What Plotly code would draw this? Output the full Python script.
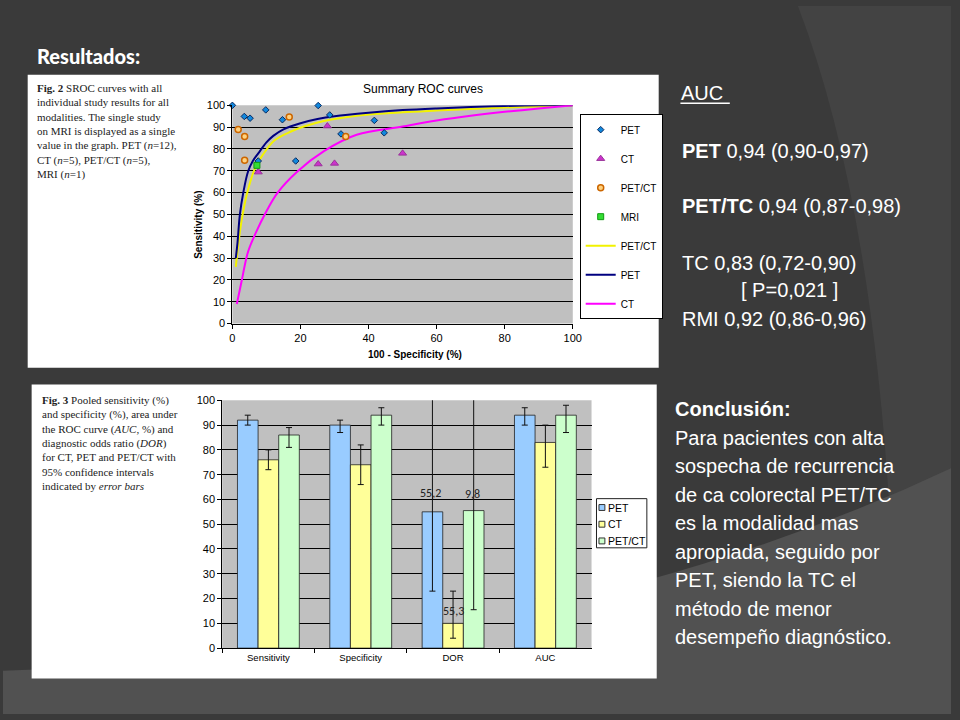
import plotly.graph_objects as go

W, H = 960, 720


def px(x):
    return x / W


def py(y):
    return 1 - y / H


# --- Fig. 2: study points (100 - specificity, sensitivity) ---
pet_fpr = [0, 3.5, 5.2, 9.8, 14.7, 25.2, 28.6, 31.9, 41.7, 44.6, 18.6, 7.6]
pet_sens = [100, 94.9, 94.1, 97.9, 93.4, 99.9, 95.6, 86.9, 93.1, 87.4, 74.5, 74.5]
ct_fpr = [7.6, 25.2, 30, 27.9, 50]
ct_sens = [69.4, 73.1, 73.4, 90.5, 78]
petct_fpr = [1.7, 3.6, 3.6, 16.7, 33.3]
petct_sens = [88.9, 85.7, 74.8, 94.7, 85.7]
mri_fpr = [7.2]
mri_sens = [72.5]

# --- Fig. 2: SROC curves ---
pet_curve_x = [1, 1.5, 2.2, 3.2, 4.6, 6, 7.6, 10, 12, 15, 20, 25, 30, 40, 50, 60, 70, 80, 90, 100]
pet_curve_y = [30, 37, 50, 60, 69.7, 74.5, 78, 83, 86, 89, 91.8, 93.7, 95, 96.6, 97.8, 98.6, 99.2, 99.7, 100, 100]
petct_curve_x = [1, 2.2, 3.2, 4.6, 6.6, 9, 12.4, 17.2, 21, 26.9, 36.5, 50, 60, 70, 80, 90, 100]
petct_curve_y = [26, 42, 51.6, 61.4, 71, 77.5, 84, 88, 90.3, 92.8, 95.2, 96.8, 97.6, 98.3, 99, 99.5, 100]
ct_curve_x = [1.3, 2.7, 4.6, 7, 9.5, 13.3, 19.1, 26.9, 36.5, 50, 60, 70, 80, 90, 100]
ct_curve_y = [9, 19.4, 32.9, 42, 50, 60, 69.7, 79, 86.5, 90.3, 93, 95.2, 97, 98.5, 100]

# --- Fig. 3: pooled estimates with 95% CI ---
categories = ["Sensitivity", "Specificity", "DOR", "AUC"]
bar_names = ["PET", "CT", "PET/CT"]
bar_colors = ["#99ccff", "#ffff99", "#ccffcc"]
pet_vals = [92, 90, 55, 94]
pet_hi = [94, 92, 160, 97]
pet_lo = [90, 87, 23, 90]
ct_vals = [76, 74, 10, 83]
ct_hi = [80, 82, 23, 90]
ct_lo = [72, 66, 4, 73]
petct_vals = [86, 94, 55.5, 94]
petct_hi = [89, 97, 200, 98]
petct_lo = [81, 90, 15.5, 87]
dor_labels = ["55,2", "55,3", "9,8"]   # PET, CT, PET/CT (as written on the slide)
dor_label_y = [62.5, 15, 62]

auc_lines = [
    ("<b>PET</b> 0,94 (0,90-0,97)", 686, 147),
    ("<b>PET/TC</b> 0,94 (0,87-0,98)", 686, 203),
    ("TC 0,83 (0,72-0,90)", 686, 261),
    ("[ P=0,021 ]", 745, 289),
    ("RMI 0,92 (0,86-0,96)", 686, 318),
]
conclusion_lines = [
    "<b>Conclusión:</b>",
    "Para pacientes con alta",
    "sospecha de recurrencia",
    "de ca colorectal PET/TC",
    "es la modalidad mas",
    "apropiada, seguido por",
    "PET, siendo la TC el",
    "método de menor",
    "desempeño diagnóstico.",
]
fig2_caption = ("<b>Fig. 2</b> SROC curves with all<br>individual study results for all<br>"
                "modalities. The single study<br>on MRI is displayed as a single<br>"
                "value in the graph. PET (<i>n</i>=12),<br>CT (<i>n</i>=5), PET/CT (<i>n</i>=5),<br>"
                "MRI (<i>n</i>=1)")
fig3_caption = ("<b>Fig. 3</b> Pooled sensitivity (%)<br>and specificity (%), area under<br>"
                "the ROC curve (<i>AUC</i>, %) and<br>diagnostic odds ratio (<i>DOR</i>)<br>"
                "for CT, PET and PET/CT with<br>95% confidence intervals<br>"
                "indicated by <i>error bars</i>")

ARIAL = "Liberation Sans, Arial"
SERIF = "Liberation Serif, Times New Roman"

fig = go.Figure()

# SROC curves
for name, xs, ys, col, rank in [("PET/CT", petct_curve_x, petct_curve_y, "#f2f200", 5),
                                ("PET", pet_curve_x, pet_curve_y, "#000080", 6),
                                ("CT", ct_curve_x, ct_curve_y, "#ff00ff", 7)]:
    fig.add_trace(go.Scatter(x=xs, y=ys, mode="lines", name=name, line=dict(color=col, width=2, shape="spline"),
                             legend="legend", legendrank=rank, legendgroup="l" + name, xaxis="x", yaxis="y"))

# study points
fig.add_trace(go.Scatter(x=pet_fpr, y=pet_sens, mode="markers", name="PET", cliponaxis=False,
                         marker=dict(symbol="diamond", size=5, color="#1188dd", line=dict(color="#0a2a60", width=1)),
                         legendrank=1, legendgroup="p1", xaxis="x", yaxis="y"))
fig.add_trace(go.Scatter(x=ct_fpr, y=ct_sens, mode="markers", name="CT",
                         marker=dict(symbol="triangle-up", size=7, color="#cc33cc", line=dict(color="#993399", width=1)),
                         legendrank=2, legendgroup="p2", xaxis="x", yaxis="y"))
fig.add_trace(go.Scatter(x=petct_fpr, y=petct_sens, mode="markers", name="PET/CT",
                         marker=dict(symbol="circle", size=6, color="#ffd27f", line=dict(color="#cc6600", width=1.5)),
                         legendrank=3, legendgroup="p3", xaxis="x", yaxis="y"))
fig.add_trace(go.Scatter(x=mri_fpr, y=mri_sens, mode="markers", name="MRI",
                         marker=dict(symbol="square", size=6, color="#33dd33", line=dict(color="#119911", width=1)),
                         legendrank=4, legendgroup="p4", xaxis="x", yaxis="y"))

# pooled bars
for name, vals, hi, lo, col in zip(bar_names, [pet_vals, ct_vals, petct_vals], [pet_hi, ct_hi, petct_hi],
                                   [pet_lo, ct_lo, petct_lo], bar_colors):
    fig.add_trace(go.Bar(
        x=categories, y=vals, name=name, showlegend=False, xaxis="x2", yaxis="y2",
        marker=dict(color=col, line=dict(color="#222222", width=0.8)),
        error_y=dict(type="data", array=[h - v for h, v in zip(hi, vals)],
                     arrayminus=[v - l for v, l in zip(vals, lo)],
                     color="#111111", thickness=1, width=3),
    ))

shapes = [
    # slide background decoration
    dict(type="path", xref="paper", yref="paper", layer="below", line=dict(width=0), fillcolor="#434343",
         path=f"M {px(805)},{py(0)} Q {px(900)},{py(250)} {px(905)},{py(720)} L {px(960)},{py(720)} L {px(960)},{py(0)} Z"),
    dict(type="path", xref="paper", yref="paper", layer="below", line=dict(width=0), fillcolor="#515151",
         path=f"M {px(0)},{py(676)} Q {px(560)},{py(660)} {px(960)},{py(470)} L {px(960)},{py(720)} L {px(0)},{py(720)} Z"),
    # white panels
    dict(type="rect", xref="paper", yref="paper", layer="below", line=dict(width=0), fillcolor="white",
         x0=px(25), x1=px(664), y0=py(368), y1=py(70)),
    dict(type="rect", xref="paper", yref="paper", layer="below", line=dict(width=0), fillcolor="white",
         x0=px(29), x1=px(662), y0=py(684), y1=py(385)),
    # grey plot areas
    dict(type="rect", xref="x domain", yref="y domain", layer="below", line=dict(width=0), fillcolor="#c0c0c0",
         x0=0, x1=1, y0=0, y1=1),
    dict(type="rect", xref="x2 domain", yref="y2 domain", layer="below", line=dict(width=0), fillcolor="#c0c0c0",
         x0=0, x1=1, y0=0, y1=1),
    # underline for AUC heading
    dict(type="line", xref="paper", yref="paper", line=dict(color="white", width=1.5),
         x0=px(686), x1=px(736), y0=py(99), y1=py(99)),
    # legend box for Fig. 3
    dict(type="rect", xref="paper", yref="paper", line=dict(color="#222222", width=1), fillcolor="white",
         x0=px(601), x1=px(652), y0=py(551), y1=py(501)),
]

annotations = [
    dict(text="Resultados:", x=px(32), y=py(51), xanchor="left", yanchor="middle",
         font=dict(family="Lato", size=20, weight=900, color="white")),
    dict(text="AUC", x=px(685), y=py(88), xanchor="left", yanchor="middle",
         font=dict(family=ARIAL, size=20, color="white")),
    dict(text=fig2_caption, x=px(32), y=py(75), xanchor="left", yanchor="top", align="left",
         font=dict(family=SERIF, size=11, color="#222222")),
    dict(text=fig3_caption, x=px(37), y=py(393), xanchor="left", yanchor="top", align="left",
         font=dict(family=SERIF, size=11, color="#222222")),
    dict(text="Summary ROC curves", x=px(425), y=py(84), xanchor="center", yanchor="middle",
         font=dict(family=ARIAL, size=12, color="black")),
    dict(text="<b>100 - Specificity (%)</b>", x=px(417), y=py(354), xanchor="center", yanchor="middle",
         font=dict(family=ARIAL, size=10, color="black")),
    dict(text="<b>Sensitivity (%)</b>", x=px(198), y=py(223), xanchor="center", yanchor="middle", textangle=-90,
         font=dict(family=ARIAL, size=10, color="black")),
]
for txt, x0, y0 in auc_lines:
    annotations.append(dict(text=txt, x=px(x0), y=py(y0), xanchor="left", yanchor="middle",
                            font=dict(family=ARIAL, size=20, color="white")))
for i, txt in enumerate(conclusion_lines):
    annotations.append(dict(text=txt, x=px(678), y=py(410 + 29 * i), xanchor="left", yanchor="middle",
                            font=dict(family=ARIAL, size=20, color="white")))
for lab, yv, shift in zip(dor_labels, dor_label_y, [-23, 0, 19]):
    annotations.append(dict(text=lab, x="DOR", y=yv, xref="x2", yref="y2", xshift=shift, xanchor="center",
                            yanchor="middle", font=dict(family="Carlito, Liberation Sans", size=12, color="#222222")))

# compact legend for Fig. 3
for i, (name, col) in enumerate(zip(bar_names, bar_colors)):
    yc = 510 + 17 * i
    shapes.append(dict(type="rect", xref="paper", yref="paper", line=dict(color="#333333", width=1),
                       fillcolor=col, x0=px(603.5), x1=px(609.5), y0=py(yc + 3), y1=py(yc - 3)))
    annotations.append(dict(text=name, x=px(611), y=py(yc), xanchor="left", yanchor="middle",
                            font=dict(family=ARIAL, size=10.5, color="black")))

for a in annotations:
    a.setdefault("xref", "paper")
    a.setdefault("yref", "paper")
    a["showarrow"] = False

axis_common = dict(showline=True, linecolor="black", linewidth=1, ticks="outside", ticklen=4, tickcolor="black",
                   tickfont=dict(family=ARIAL, size=11, color="black"), zeroline=False)

fig.update_layout(
    width=W, height=H, autosize=False,
    margin=dict(l=0, r=0, t=0, b=0),
    paper_bgcolor="#3a3a3a",
    plot_bgcolor="rgba(0,0,0,0)",
    showlegend=True,
    barmode="group", bargap=0.33, bargroupgap=0,
    xaxis=dict(domain=[px(232.3), px(577)], range=[0, 100], dtick=20, showgrid=False, anchor="y", **axis_common),
    yaxis=dict(domain=[py(323), py(101)], range=[0, 100], dtick=10, showgrid=True, gridcolor="black",
               gridwidth=1, anchor="x", **axis_common),
    xaxis2=dict(domain=[px(222), px(596)], type="category", tickson="boundaries", showgrid=False, anchor="y2",
                **{**axis_common, "tickfont": dict(family=ARIAL, size=9.5, color="black")}),
    yaxis2=dict(domain=[py(653), py(401)], range=[0, 100], dtick=10, showgrid=True, gridcolor="black",
                gridwidth=1, anchor="x2", **axis_common),
    legend=dict(x=px(584), y=py(110), xanchor="left", yanchor="top", bgcolor="white", bordercolor="black",
                borderwidth=1, font=dict(family=ARIAL, size=10, color="black"), tracegroupgap=10,
                traceorder="grouped"),
    shapes=shapes,
    annotations=annotations,
)

page_css = ("document.documentElement.style.margin='0';document.documentElement.style.overflow='hidden';"
            "document.body.style.margin='0';document.body.style.padding='0';document.body.style.overflow='hidden';"
            "window.scrollTo(0,0);")
fig.write_html("out.html", config={"displayModeBar": False}, post_script=page_css)
